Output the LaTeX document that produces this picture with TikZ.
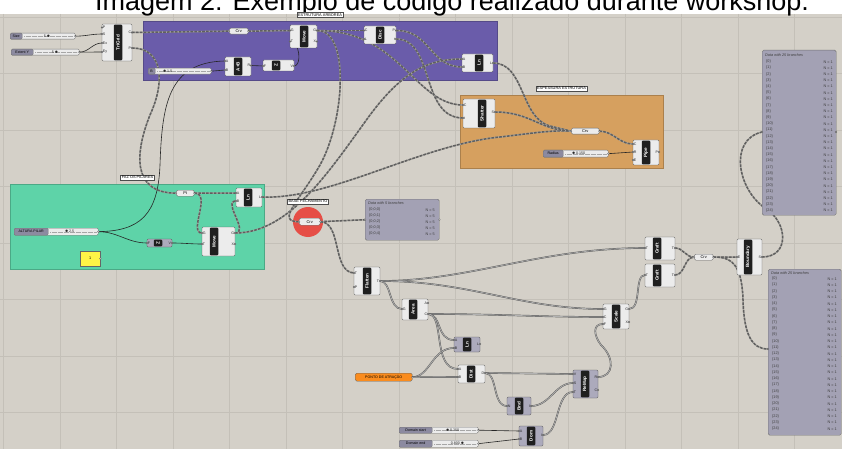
\documentclass[tikz,border=0pt]{standalone}
\usepackage{fontspec}
\setmainfont{Liberation Sans}
\usetikzlibrary{calc}
\pgfdeclarelayer{bg}
\pgfdeclarelayer{wl}
\pgfsetlayers{bg,wl,main}
\definecolor{canvas}{RGB}{212,208,200}
\definecolor{gridc}{RGB}{196,192,184}
\definecolor{purpg}{RGB}{106,92,170}
\definecolor{orgg}{RGB}{214,160,95}
\definecolor{greeng}{RGB}{94,211,168}
\definecolor{redc}{RGB}{230,78,70}
\definecolor{compfill}{RGB}{236,236,236}
\definecolor{dimfill}{RGB}{172,170,188}
\definecolor{slab}{RGB}{140,138,160}
\definecolor{panelc}{RGB}{163,161,180}
\definecolor{wirec}{RGB}{95,95,95}
\definecolor{wirebg}{RGB}{165,163,158}
\definecolor{pontoc}{RGB}{250,140,30}
\definecolor{yellowc}{RGB}{255,244,70}
\newcommand{\cfill}{compfill}
\newcommand{\grip}{\raisebox{0.2pt}{\fontsize{4}{4}\selectfont$\bullet$}}
\tikzset{
 compbox/.style={draw=black!65, fill=\cfill, rounded corners=1.2pt, line width=0.35pt, inner sep=0pt, outer sep=0pt},
 stripbox/.style={fill=black!88, rounded corners=1pt, minimum width=8.5pt, inner sep=0pt, text=white, font=\fontsize{4.6}{5}\selectfont\bfseries},
 portlab/.style={font=\fontsize{3.6}{4}\selectfont, inner sep=0.7pt, text=black!85},
 portc/.style={draw=black!70, fill=white, line width=0.25pt},
 parbox/.style={draw=black!60, fill=compfill, rounded corners=1.5pt, inner sep=0pt, line width=0.35pt, font=\fontsize{4}{4}\selectfont},
 slbox/.style={draw=black!55, fill=compfill, rounded corners=1.2pt, inner sep=0pt, line width=0.35pt},
 sllab/.style={draw=black!55, fill=slab, rounded corners=1.2pt, inner sep=0.5pt, line width=0.35pt, font=\fontsize{3.6}{4}\selectfont, text=black},
 grouplab/.style={draw=black!70, fill=white, font=\fontsize{3.9}{4}\selectfont, inner sep=1.2pt, line width=0.35pt},
 panelbox/.style={draw=black!55, fill=panelc, rounded corners=1.5pt, inner sep=0pt, line width=0.4pt},
 pantext/.style={font=\fontsize{3.8}{4}\selectfont, inner sep=0pt, text=black!75},
 treew/.style={preaction={draw=wirebg, line width=1.5pt}, draw=wirec, line width=1.5pt, dash pattern=on 2.6pt off 1.3pt},
 solw/.style={draw=black!85, line width=0.6pt},
 listw/.style={draw=black!65, double=black!30, double distance=0.7pt, line width=0.45pt},
}
\newcommand{\ghc}[9]{%
  \node[compbox, anchor=north west, minimum width=#4pt, minimum height=#5pt] (#1) at (#2,#3) {};
  \node[stripbox, minimum height=#5pt-1.4pt] (#1-s) at ($(#1.north west)+(#6,#5/2)$) {\rotatebox{90}{#7}};
  \foreach \lab/\dy [count=\i] in {#8}{%
    \coordinate (#1-i\i) at ($(#1.north west)+(0,\dy)$);
    \node[portlab, anchor=west] (#1-il\i) at (#1-i\i) {\lab};
    \draw[portc] (#1-i\i) circle (0.9pt);}
  \foreach \lab/\dy [count=\i] in {#9}{%
    \coordinate (#1-o\i) at ($(#1.north east)+(0,\dy)$);
    \node[portlab, anchor=east] (#1-ol\i) at (#1-o\i) {\lab};
    \draw[portc] (#1-o\i) circle (0.9pt);}
}
\newcommand{\ghp}[6]{%
  \node[parbox, anchor=north west, minimum width=#4pt, minimum height=#5pt] (#1) at (#2,#3) {#6};
  \coordinate (#1-in) at (#1.west); \coordinate (#1-out) at (#1.east);
  \draw[portc] (#1-in) circle (0.9pt); \draw[portc] (#1-out) circle (0.9pt);}
\newcommand{\ghs}[9]{%
  \node[slbox, anchor=north west, minimum width=#4pt, minimum height=#5pt] (#1) at (#2,#3) {};
  \node[sllab, anchor=north west, minimum width=#6pt, minimum height=#5pt] (#1-l) at (#2,#3) {#7};
  \draw[black!35, line width=0.3pt, dash pattern=on 0.4pt off 0.8pt] ($(#1-l.east)+(2,0)$) -- ($(#1.east)+(-2,0)$);
  \node[portlab, anchor=west] (#1-v) at (#2+#9,#3+#5/2) {#8};
  \coordinate (#1-o) at (#1.east);
  \draw[portc] (#1-o) circle (0.9pt);}
\begin{document}
\begin{tikzpicture}[x=1pt,y=-1pt]
\useasboundingbox (0,0) rectangle (842,449);
\begin{pgfonlayer}{bg}
  \fill[white] (0,0) rectangle (842,14);
  \fill[canvas] (0,14) rectangle (842,449);
  \foreach \gx in {0,...,14} \draw[gridc, line width=0.5pt] (3.5+56.5*\gx,14) -- (3.5+56.5*\gx,449);
  \foreach \gy in {0,...,7} \draw[gridc, line width=0.5pt] (0,17+56.5*\gy) -- (842,17+56.5*\gy);
  \filldraw[fill=purpg, draw=purpg!80!black, line width=0.4pt] (143,21) rectangle (497,80);
  \filldraw[fill=orgg, draw=orgg!80!black, line width=0.4pt] (460,95) rectangle (663,168);
  \filldraw[fill=greeng, draw=greeng!80!black, line width=0.4pt] (10,184) rectangle (264,269);
  \fill[redc] (308,222) circle (15);
\end{pgfonlayer}
\begin{scope}
  \clip (0,0) rectangle (842,449);
  \node[anchor=base west, inner sep=0pt, font=\fontsize{27}{30}\selectfont] (title) at (95,10.5) {Imagem 2: Exemplo de código realizado durante workshop.};
\end{scope}
% group labels
\node[grouplab] (glab1) at (320,15) {ESTRUTURA ARBOREA};
\node[grouplab] (glab2) at (561.5,88.5) {ESPESSURA ESTRUTURA};
\node[grouplab] (glab3) at (137.5,177.5) {FAZ OS PILARES};
\node[grouplab] (glab4) at (308,201.5) {BASE FECHAMENTO};
% sliders
\ghs{size}{10}{33}{65}{6}{12}{Size}{5\,\grip}{33}
\ghs{exty}{11}{49}{68}{6}{22}{Extent Y}{5\,\grip}{40}
\ghs{sliderb}{148}{68}{63}{6}{7}{B}{\grip\,1.0}{14}
\ghs{altura}{14}{228}{84}{7}{34}{ALTURA PILAR}{\grip\,2.5}{50}
\ghs{radius}{543}{150}{65}{7}{20}{Radius}{\grip\,0.150}{28}
\ghs{domstart}{399}{427}{79}{6}{33}{Domain start}{\grip\,0.250}{46}
\ghs{domend}{399}{440}{79}{7}{33}{Domain end}{0.800\,\grip}{51}
% components
\ghc{trigrid}{102}{24}{30}{37}{16}{TriGrid}{P/3.5,S/10,Ex/19,Ey/28}{C/8.5,P/24}
\ghc{movea}{290}{25}{27}{23}{14}{Move}{G/5.5,T/16.5}{G/5.5,X/16.5}
\ghc{adda}{225}{57}{26}{19}{13}{A+B}{A/4,B/13}{R/8.5}
\ghc{unitza}{263}{60}{31}{11}{13}{Z}{F/6}{V/6}
\ghc{disc}{364}{26}{32}{18}{16}{Disc}{C/4.5,L/13}{P/4.5,t/13}
\ghc{lna}{462}{54}{31}{18}{17}{Ln}{A/5,B/13}{L/9}
\ghc{shatter}{463}{99}{32}{29}{19}{Shatter}{C/6,t/19}{S/13}
\ghc{pipe}{633}{140}{26}{25}{13}{Pipe}{C/4,R/12,E/20}{P/12}
\ghc{lnb}{236}{188}{26}{19}{12}{Ln}{A/5,B/13}{L/9}
\ghc{moveb}{202}{227}{33}{29}{12}{Move}{G/6,T/17}{G/6,X/17}
\ghc{flatten}{354}{267}{26}{28}{13}{Flatten}{T/6,P/20}{T/14}
\ghc{area}{402}{299}{26}{21}{11}{Area}{G/10}{A/4,C/15}
\ghc{scale}{603}{304}{26}{25}{13}{Scale}{G/5,C/13,F/20}{G/5,X/18}
\ghc{grafta}{645}{237}{30}{23}{12}{Graft}{T/11}{T/11}
\ghc{graftb}{645}{264}{30}{23}{12}{Graft}{T/11}{T/11}
\ghc{boundary}{737}{239}{25}{36}{11}{Boundary}{E/18}{S/18}
\ghc{dist}{458}{365}{27}{18}{13}{Dist}{A/4,B/12}{D/8}
\renewcommand{\cfill}{dimfill}
\ghc{unitzb}{147}{239}{25}{8}{11}{Z}{F/4}{V/4}
\ghc{lnc}{454}{337}{26}{15}{13}{Ln}{A/3,B/11}{L/7}
\ghc{bnd}{507}{397}{24}{18}{12}{Bnd}{N/9}{I/9}
\ghc{remap}{573}{370}{25}{28}{12}{ReMap}{V/4,S/13,T/22}{R/7,C/20}
\ghc{dom}{519}{426}{24}{20}{12}{Dom}{A/5,B/13}{I/9}
% params
\ghp{crva}{229}{28}{19}{6}{Crv}
\ghp{crvb}{571}{128}{28}{6}{Crv}
\ghp{pt}{176}{190}{18}{6}{Pt}
\ghp{crvc}{299}{218}{21}{7}{Crv}
\ghp{crvd}{694}{254}{19}{6}{Crv}
\node[parbox, fill=pontoc, anchor=north west, minimum width=57pt, minimum height=8pt, font=\fontsize{3.6}{4}\selectfont] (ponto) at (355,373) {PONTO DE ATRAÇÃO};
\coordinate (ponto-out) at (ponto.east);
\draw[portc] (ponto-out) circle (0.9pt);
\node[draw=black!60, fill=yellowc, anchor=north west, minimum width=20pt, minimum height=15pt, inner sep=0pt, line width=0.35pt, font=\fontsize{3.8}{4}\selectfont] (ypanel) at (80,251) {1};
\draw[portc] (ypanel.east) circle (0.9pt);
% panels
\node[panelbox, anchor=north west, minimum width=74pt, minimum height=41pt] (p5) at (365,199) {};
\coordinate (p5-in) at (p5.west);
\draw[portc] (p5-in) circle (0.9pt); \draw[portc] (p5.east) circle (0.9pt);
\node[pantext, anchor=west, font=\fontsize{3.8}{4}\selectfont\itshape] (p5-h) at (368,203.5) {Data with 5 branches};
\foreach \k in {0,...,4} {
  \node[pantext, anchor=west] (p5-r\k) at (369,210+6*\k) {\{0;0;\k\}};
  \node[pantext, anchor=east] (p5-n\k) at (435,210+6*\k) {N = 5};}
\node[panelbox, anchor=north west, minimum width=74pt, minimum height=165pt] (ptop) at (762,50) {};
\coordinate (ptop-in) at (762,132);
\draw[portc] (ptop-in) circle (0.9pt); \draw[portc] (836,132) circle (0.9pt);
\node[pantext, anchor=west, font=\fontsize{3.8}{4}\selectfont\itshape] (ptop-h) at (765,55) {Data with 25 branches};
\foreach \k in {0,...,24} {
  \node[pantext, anchor=west] (ptop-r\k) at (766,61.7+6.2*\k) {\{\k\}};
  \node[pantext, anchor=east] (ptop-n\k) at (833,61.7+6.2*\k) {N = 1};}
\node[panelbox, anchor=north west, minimum width=73pt, minimum height=166pt] (pbot) at (768,269) {};
\coordinate (pbot-in) at (768,349);
\draw[portc] (pbot-in) circle (0.9pt);
\node[pantext, anchor=west, font=\fontsize{3.8}{4}\selectfont\itshape] (pbot-h) at (771,273) {Data with 25 branches};
\foreach \k in {0,...,24} {
  \node[pantext, anchor=west] (pbot-r\k) at (772,278.7+6.25*\k) {\{\k\}};
  \node[pantext, anchor=east] (pbot-n\k) at (837,278.7+6.25*\k) {N = 1};}
% wires
\begin{pgfonlayer}{wl}
\draw[solw] (size-o) to[out=0,in=180] (trigrid-i2);
\draw[solw] (exty-o) to[out=0,in=180] (trigrid-i3);
\draw[solw] (exty-o) to[out=0,in=180] (trigrid-i4);
\draw[treew] (trigrid-o1) -- (crva-in);
\draw[treew] (crva-out) -- (movea-i1);
\draw[treew] (trigrid-o2) .. controls (162,48) and (166,80) .. (150,115) .. controls (136,150) and (130,193) .. (pt-in);
\draw[solw] (altura-o) .. controls (140,231) and (158,215) .. (160,165) .. controls (162,105) and (168,62) .. (adda-i1);
\draw[solw] (altura-o) to[out=0,in=180] (unitzb-i1);
\draw[solw] (unitzb-o1) to[out=0,in=180] (moveb-i2);
\draw[solw] (sliderb-o) -- (adda-i2);
\draw[solw] (adda-o1) -- (unitza-i1);
\draw[solw] (unitza-o1) .. controls (302,66) and (300,41.5) .. (movea-i2);
\draw[treew] (movea-o1) -- (disc-i1);
\draw[treew] (movea-o1) .. controls (400,30) and (415,105) .. (shatter-i1);
\draw[treew] (disc-o2) .. controls (435,39) and (420,118) .. (shatter-i2);
\draw[treew] (disc-o1) .. controls (430,30) and (430,67) .. (lna-i2);
\draw[treew] (moveb-o1) .. controls (290,233) and (330,170) .. (370,115) .. controls (400,75) and (425,59) .. (lna-i1);
\draw[treew] (movea-o1) .. controls (350,30) and (345,120) .. (320,165) .. controls (300,200) and (275,222) .. (crvc-in);
\draw[treew] (lnb-o1) .. controls (330,200) and (420,145) .. (500,137) .. controls (535,133) and (550,130) .. (crvb-in);
\draw[treew] (lna-o1) .. controls (525,63) and (520,118) .. (550,126) .. controls (560,129) .. (crvb-in);
\draw[treew] (shatter-o1) .. controls (530,112) and (540,130) .. (crvb-in);
\draw[treew] (crvb-out) to[out=0,in=180] (pipe-i1);
\draw[solw] (radius-o) -- (pipe-i2);
\draw[treew] (pt-out) -- (lnb-i1);
\draw[treew] (pt-out) .. controls (212,193) and (188,233) .. (moveb-i1);
\draw[treew] (moveb-o1) .. controls (250,233) and (222,201) .. (lnb-i2);
\draw[treew] (crvc-out) -- (p5-in);
\draw[treew] (crvc-out) .. controls (342,222) and (332,272) .. (flatten-i1);
\draw[listw] (flatten-o1) .. controls (470,281) and (540,248) .. (grafta-i1);
\draw[listw] (flatten-o1) .. controls (470,281) and (520,309) .. (scale-i1);
\draw[listw] (flatten-o1) .. controls (392,281) and (388,309) .. (area-i1);
\draw[listw] (area-o2) .. controls (500,314) and (540,317) .. (scale-i2);
\draw[listw] (area-o2) .. controls (442,314) and (436,340) .. (lnc-i1);
\draw[listw] (area-o2) .. controls (445,314) and (432,369) .. (dist-i1);
\draw[listw] (ponto-out) .. controls (430,377) and (432,348) .. (lnc-i2);
\draw[listw] (ponto-out) -- (dist-i2);
\draw[listw] (dist-o1) -- (remap-i1);
\draw[listw] (dist-o1) .. controls (498,373) and (492,406) .. (bnd-i1);
\draw[listw] (bnd-o1) .. controls (550,406) and (555,383) .. (remap-i2);
\draw[listw] (dom-o1) .. controls (560,435) and (555,392) .. (remap-i3);
\draw[solw] (domstart-o) -- (dom-i1);
\draw[solw] (domend-o) -- (dom-i2);
\draw[listw] (remap-o1) .. controls (614,377) and (615,358) .. (601,345) .. controls (594,336) and (592,324) .. (scale-i3);
\draw[listw] (scale-o1) .. controls (642,309) and (634,275) .. (graftb-i1);
\draw[treew] (grafta-o1) to[out=0,in=180] (crvd-in);
\draw[treew] (graftb-o1) to[out=0,in=180] (crvd-in);
\draw[treew] (crvd-out) -- (boundary-i1);
\draw[treew] (crvd-out) .. controls (735,256) and (742,270) .. (743,300) .. controls (744,335) and (752,349) .. (pbot-in);
\draw[treew] (boundary-o1) .. controls (790,257) and (788,222) .. (765,208) .. controls (738,190) and (728,140) .. (ptop-in);
\end{pgfonlayer}
\end{tikzpicture}
\end{document}
